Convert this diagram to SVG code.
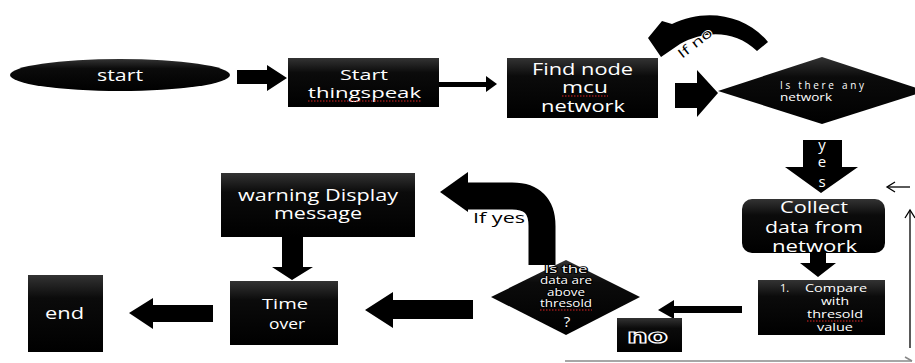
<svg xmlns="http://www.w3.org/2000/svg" width="915" height="363" viewBox="0 0 915 363">
<defs>
<linearGradient id="g" x1="0" y1="0" x2="0" y2="1">
<stop offset="0" stop-color="#333"/>
<stop offset="0.3" stop-color="#0b0b0b"/>
<stop offset="1" stop-color="#000"/>
</linearGradient>
</defs>
<style>
.n{fill:url(#g)}
.a{fill:#000}
.t{font-family:"Open Sans","Liberation Sans",sans-serif;fill:#fff;text-anchor:middle}
.o{stroke:#000;stroke-width:1.6;paint-order:stroke}
.sq{stroke:#d22;stroke-width:1;stroke-dasharray:1.5 1.5;fill:none}
.thin{stroke:#000;stroke-width:1.3;fill:none}
</style>
<rect width="915" height="363" fill="#fff"/>

<g id="connectors">
<polygon class="a" points="237,70 267,70 267,65 287,78 267,91 267,84 237,84"/>
<rect class="a" x="439" y="82" width="49" height="5"/>
<polygon class="a" points="486,76 497,84 486,92"/>
<polygon class="a" points="675,83 697,83 697,70 718,93 697,117 697,108 675,108"/>
<path class="a" d="M768 42 C745 14 705 8 672 24 L662 21 L648 38 L661 57 L680 44 C705 30 735 30 757 51 Z"/>
<text x="682" y="59" font-family="Open Sans, Liberation Sans, sans-serif" font-size="13" fill="#000" stroke="#fff" stroke-width="1.5" paint-order="stroke" transform="rotate(-38 682 59)" textLength="40" lengthAdjust="spacingAndGlyphs">If no</text>
<polygon class="a" points="803,140 842,140 842,167 858,167 821,193 785,167 803,167"/>
<text class="t" x="822" y="150" font-size="15">y</text>
<text class="t" x="822" y="167" font-size="15">e</text>
<text class="t" x="822" y="187" font-size="15">s</text>
<polygon class="a" points="810,253 826,253 826,263 836,263 818,277 800,263 810,263"/>
<polygon class="a" points="742,306 674,306 674,300 658,310 674,319 674,313 742,313"/>
<path d="M542 265 L542 226 Q542 196 512 196 L466 196" stroke="#000" stroke-width="27" fill="none"/>
<polygon class="a" points="468,172 440,192 468,212"/>
<text x="473" y="223" font-family="Open Sans, Liberation Sans, sans-serif" font-size="14" fill="#000" textLength="52" lengthAdjust="spacingAndGlyphs">If yes</text>
<polygon class="a" points="473,300 393,300 393,292 365,310 393,328 393,319 473,319"/>
<polygon class="a" points="282,237 303,237 303,267 313,267 292,280 272,267 282,267"/>
<polygon class="a" points="213,305 153,305 153,298 129,313 153,329 153,322 213,322"/>
<line class="thin" x1="910" y1="187" x2="888" y2="187"/>
<path class="thin" d="M895 182 L887 187 L895 192"/>
<line class="thin" x1="910" y1="348" x2="910" y2="210"/>
<path class="thin" d="M905 218 L910 210 L915 218"/>
<line x1="565" y1="361" x2="912" y2="361" stroke="#888" stroke-width="1.5"/>
<path d="M905 357 L912 361" stroke="#888" stroke-width="1.5" fill="none"/>
</g>

<g id="start">
<ellipse class="n" cx="120" cy="75" rx="110" ry="16"/>
<text class="t" x="120" y="81" font-size="16" textLength="46" lengthAdjust="spacingAndGlyphs">start</text>
</g>

<g id="thingspeak">
<rect class="n" x="288" y="58" width="151" height="49"/>
<text class="t" x="364" y="80" font-size="15" textLength="48" lengthAdjust="spacingAndGlyphs">Start</text>
<text class="t" x="364.5" y="98" font-size="15" textLength="113" lengthAdjust="spacingAndGlyphs">thingspeak</text>
<line class="sq" x1="308" y1="101" x2="421" y2="101"/>
</g>

<g id="findnode">
<rect class="n" x="507" y="58" width="151" height="60"/>
<text class="t" x="582.5" y="75" font-size="16" textLength="101" lengthAdjust="spacingAndGlyphs">Find node</text>
<text class="t" x="585" y="93" font-size="16" textLength="46" lengthAdjust="spacingAndGlyphs">mcu</text>
<line class="sq" x1="562" y1="96" x2="608" y2="96"/>
<text class="t" x="583" y="112" font-size="16" textLength="84" lengthAdjust="spacingAndGlyphs">network</text>
</g>

<g id="networkcheck">
<polygon class="n" points="718,91 822,57 926,91 822,124"/>
<text class="t" x="780" y="89" font-size="10" style="text-anchor:start" textLength="84" lengthAdjust="spacing">Is there any</text>
<text class="t" x="780" y="101" font-size="10" style="text-anchor:start" textLength="52" lengthAdjust="spacingAndGlyphs">network</text>
</g>

<g id="collect">
<rect class="n" x="742" y="199" width="143" height="54" rx="10"/>
<text class="t" x="814" y="213" font-size="16" textLength="68" lengthAdjust="spacingAndGlyphs">Collect</text>
<text class="t" x="814" y="233" font-size="16" textLength="98" lengthAdjust="spacingAndGlyphs">data from</text>
<text class="t" x="814.5" y="252" font-size="16" textLength="85" lengthAdjust="spacingAndGlyphs">network</text>
</g>

<g id="compare">
<rect class="n" x="758" y="280" width="127" height="55"/>
<text class="t" x="780" y="292" font-size="11" style="text-anchor:start">1.</text>
<text class="t" x="836" y="292" font-size="11" textLength="62" lengthAdjust="spacingAndGlyphs">Compare</text>
<text class="t" x="835" y="305" font-size="11" textLength="28" lengthAdjust="spacingAndGlyphs">with</text>
<text class="t" x="835" y="318" font-size="11" textLength="56" lengthAdjust="spacingAndGlyphs">thresold</text>
<line class="sq" x1="807" y1="321" x2="863" y2="321"/>
<text class="t" x="835" y="331" font-size="11" textLength="36" lengthAdjust="spacingAndGlyphs">value</text>
</g>

<g id="no">
<rect class="n" x="617" y="318" width="65" height="34"/>
<text x="647.5" y="343" font-family="DejaVu Sans, sans-serif" font-weight="bold" font-size="20" text-anchor="middle" fill="#000" stroke="#fff" stroke-width="1.2" textLength="41" lengthAdjust="spacingAndGlyphs">no</text>
</g>

<g id="thresholdcheck">
<polygon class="n" points="491,297 566,260 640,297 566,335"/>
<text class="t o" x="566" y="273" font-size="10" textLength="43" lengthAdjust="spacingAndGlyphs">Is the</text>
<text class="t o" x="566" y="284" font-size="10" textLength="52" lengthAdjust="spacingAndGlyphs">data are</text>
<text class="t o" x="566" y="296" font-size="10" textLength="38" lengthAdjust="spacingAndGlyphs">above</text>
<text class="t o" x="566" y="307" font-size="10" textLength="52" lengthAdjust="spacingAndGlyphs">thresold</text>
<line class="sq" x1="540" y1="310" x2="592" y2="310"/>
<text class="t" x="567" y="327" font-size="15">?</text>
</g>

<g id="warning">
<rect class="n" x="221" y="173" width="194" height="64"/>
<text class="t" x="318" y="201" font-size="16" textLength="160" lengthAdjust="spacingAndGlyphs">warning Display</text>
<text class="t" x="318" y="219" font-size="16" textLength="88" lengthAdjust="spacingAndGlyphs">message</text>
</g>

<g id="timeover">
<rect class="n" x="230" y="281" width="108" height="64"/>
<text class="t" x="285" y="309" font-size="15" textLength="46" lengthAdjust="spacingAndGlyphs">Time</text>
<text class="t" x="287" y="329" font-size="15" textLength="36" lengthAdjust="spacingAndGlyphs">over</text>
</g>

<g id="end">
<rect class="n" x="28" y="275" width="75" height="77"/>
<text class="t" x="64.5" y="319" font-size="16" textLength="39" lengthAdjust="spacingAndGlyphs">end</text>
</g>
</svg>
